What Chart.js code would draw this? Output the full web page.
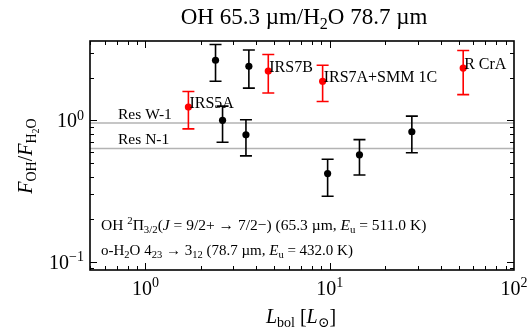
<!DOCTYPE html>
<html>
<head>
<meta charset="utf-8">
<script src="https://cdn.jsdelivr.net/npm/chart.js@4.4.1/dist/chart.umd.min.js"></script>
<style>
  body { margin: 0; background: #fff; }
  #wrap { width: 529px; height: 331px; }
</style>
</head>
<body>
<div id="wrap"><canvas id="ratioChart" width="529" height="331"></canvas></div>
<script>
// Black sources: L_bol, ratio, lower / upper error bar ends
const blackL = [2.40, 2.62, 3.51, 3.64, 9.74, 14.5, 27.9];
const blackR = [2.66, 1.00, 0.79, 2.41, 0.42, 0.57, 0.83];
const blackLo = [1.89, 0.70, 0.56, 1.69, 0.29, 0.41, 0.59];
const blackHi = [3.44, 1.26, 1.01, 3.14, 0.53, 0.73, 1.07];

// Named (red) sources
const redNames = ["IRS5A", "IRS7B", "IRS7A+SMM 1C", "R CrA"];
const redL = [1.71, 4.64, 9.15, 53.0];
const redR = [1.24, 2.23, 1.89, 2.34];
const redLo = [0.87, 1.56, 1.36, 1.52];
const redHi = [1.60, 2.92, 2.45, 3.12];

// Reference horizontal lines
const refNames = ["Res W-1", "Res N-1"];
const refValues = [0.958, 0.633];

const xMajor = [1, 10, 100];
const xMajorExp = ["0", "1", "2"];
const yMajor = [0.1, 1];
const yMajorExp = ["\u22121", "0"];

const SERIF = "'Liberation Serif', 'DejaVu Serif', serif";

// Rich text: segments {t, it, sub, sup, ss}
function segFont(s, size) {
  let sz = size;
  if (s.sub || s.sup) sz = size * 0.7;
  if (s.ss) sz = size * 0.5;
  return (s.it ? "italic " : "") + sz.toFixed(1) + "px " + SERIF;
}
function segShift(s, size) {
  if (s.sub) return size * 0.22;
  if (s.ss) return size * 0.34;
  if (s.sup) return -size * 0.38;
  return 0;
}
function richWidth(ctx, segs, size) {
  let w = 0;
  segs.forEach(s => { ctx.font = segFont(s, size); w += ctx.measureText(s.t).width; });
  return w;
}
function drawRich(ctx, segs, x, y, size, align) {
  const w = richWidth(ctx, segs, size);
  let cx = align === "center" ? x - w / 2 : align === "right" ? x - w : x;
  ctx.textAlign = "left";
  segs.forEach(s => {
    ctx.font = segFont(s, size);
    ctx.fillText(s.t, cx, y + segShift(s, size));
    cx += ctx.measureText(s.t).width;
  });
}

const errorBars = {
  id: "errorBars",
  beforeDatasetsDraw(chart) {
    const { ctx, scales: { x, y } } = chart;
    const draw = (L, lo, hi, color) => {
      ctx.save();
      ctx.strokeStyle = color;
      ctx.lineWidth = 1.6;
      L.forEach((v, i) => {
        const px = x.getPixelForValue(v);
        const p1 = y.getPixelForValue(lo[i]);
        const p2 = y.getPixelForValue(hi[i]);
        ctx.beginPath();
        ctx.moveTo(px, p1); ctx.lineTo(px, p2);
        ctx.moveTo(px - 6, p1); ctx.lineTo(px + 6, p1);
        ctx.moveTo(px - 6, p2); ctx.lineTo(px + 6, p2);
        ctx.stroke();
      });
      ctx.restore();
    };
    // reference lines
    ctx.save();
    ctx.strokeStyle = "#b3b3b3";
    ctx.lineWidth = 1.5;
    refValues.forEach(v => {
      const py = y.getPixelForValue(v);
      ctx.beginPath();
      ctx.moveTo(chart.chartArea.left, py);
      ctx.lineTo(chart.chartArea.right, py);
      ctx.stroke();
    });
    ctx.restore();
    draw(blackL, blackLo, blackHi, "#000");
    draw(redL, redLo, redHi, "#ff0000");
  }
};

const frame = {
  id: "frame",
  afterDatasetsDraw(chart) {
    const { ctx, chartArea: a, scales: { x, y } } = chart;
    ctx.save();
    ctx.fillStyle = "#000";
    ctx.textBaseline = "alphabetic";

    // point labels
    redNames.forEach((n, i) => {
      ctx.font = "16px " + SERIF;
      ctx.textAlign = "left";
      ctx.fillText(n, x.getPixelForValue(redL[i]) + 1, y.getPixelForValue(redR[i]) + 1);
    });
    refNames.forEach((n, i) => {
      ctx.font = "15.5px " + SERIF;
      ctx.textAlign = "left";
      ctx.fillText(n, 118, y.getPixelForValue(refValues[i]) - 4);
    });

    // ticks, inward on all sides
    ctx.strokeStyle = "#000";
    ctx.lineWidth = 1;
    const xT = [], yT = [];
    for (let e = -1; e <= 1; e++) for (let m = 1; m <= 9; m++) xT.push(m * Math.pow(10, e));
    for (let e = -2; e <= 0; e++) for (let m = 1; m <= 9; m++) yT.push(m * Math.pow(10, e));
    ctx.beginPath();
    xT.filter(v => v >= x.min && v <= x.max * 1.0001).forEach(v => {
      const major = Math.abs(Math.log10(v) % 1) < 1e-9;
      const len = major ? 7 : 4;
      const px = Math.round(x.getPixelForValue(v)) + 0.5;
      ctx.moveTo(px, a.bottom); ctx.lineTo(px, a.bottom - len);
      ctx.moveTo(px, a.top); ctx.lineTo(px, a.top + len);
    });
    yT.filter(v => v >= y.min && v <= y.max).forEach(v => {
      const major = Math.abs(Math.log10(v) % 1) < 1e-9;
      const len = major ? 7 : 4;
      const py = Math.round(y.getPixelForValue(v)) + 0.5;
      ctx.moveTo(a.left, py); ctx.lineTo(a.left + len, py);
      ctx.moveTo(a.right, py); ctx.lineTo(a.right - len, py);
    });
    ctx.stroke();

    // frame
    ctx.lineWidth = 1.6;
    ctx.strokeRect(a.left, a.top, a.right - a.left, a.bottom - a.top);

    // tick labels
    xMajor.forEach((v, i) => {
      drawRich(ctx, [{ t: "10" }, { t: xMajorExp[i], sup: true }], x.getPixelForValue(v), 295, 20, "center");
    });
    yMajor.forEach((v, i) => {
      drawRich(ctx, [{ t: "10" }, { t: yMajorExp[i], sup: true }], a.left - 6, y.getPixelForValue(v) + 7, 20, "right");
    });

    // title
    drawRich(ctx, [{ t: "OH 65.3 \u00b5m/H" }, { t: "2", sub: true }, { t: "O 78.7 \u00b5m" }], 304, 24, 23, "center");

    // x label
    drawRich(ctx, [{ t: "L", it: true }, { t: "bol", sub: true }, { t: " [" }, { t: "L", it: true }, { t: "\u2299", sub: true }, { t: "]" }],
      301, 323, 20, "center");

    // y label
    ctx.save();
    ctx.translate(32, 156);
    ctx.rotate(-Math.PI / 2);
    drawRich(ctx, [{ t: "F", it: true }, { t: "OH", sub: true }, { t: "/" }, { t: "F", it: true },
      { t: "H", sub: true }, { t: "2", ss: true }, { t: "O", sub: true }], 0, 0, 20, "center");
    ctx.restore();

    // transition text
    drawRich(ctx, [{ t: "OH " }, { t: "2", sup: true }, { t: "\u03a0" }, { t: "3/2", sub: true }, { t: "(" },
      { t: "J", it: true }, { t: " = 9/2+ \u2192 7/2\u2212) (65.3 \u00b5m, " }, { t: "E", it: true },
      { t: "u", sub: true }, { t: " = 511.0 K)" }], 101, 230, 15.5, "left");
    drawRich(ctx, [{ t: "o-H" }, { t: "2", sub: true }, { t: "O 4" }, { t: "23", sub: true }, { t: " \u2192 3" },
      { t: "12", sub: true }, { t: " (78.7 \u00b5m, " }, { t: "E", it: true }, { t: "u", sub: true },
      { t: " = 432.0 K)" }], 101, 255, 15, "left");

    ctx.restore();
  }
};

const toPts = (L, R) => L.map((v, i) => ({ x: v, y: R[i] }));

new Chart(document.getElementById("ratioChart"), {
  type: "scatter",
  data: {
    datasets: [
      { data: toPts(blackL, blackR), backgroundColor: "#000", borderColor: "#000", pointRadius: 3.6, borderWidth: 0 },
      { data: toPts(redL, redR), backgroundColor: "#ff0000", borderColor: "#ff0000", pointRadius: 3.6, borderWidth: 0 }
    ]
  },
  options: {
    responsive: false,
    animation: false,
    layout: { padding: { left: 90, right: 15, top: 41, bottom: 61 } },
    plugins: { legend: { display: false }, tooltip: { enabled: false } },
    scales: {
      x: { type: "logarithmic", min: 0.5, max: 100, display: false },
      y: { type: "logarithmic", min: 0.0873, max: 3.64, display: false }
    }
  },
  plugins: [errorBars, frame]
});
</script>
</body>
</html>
